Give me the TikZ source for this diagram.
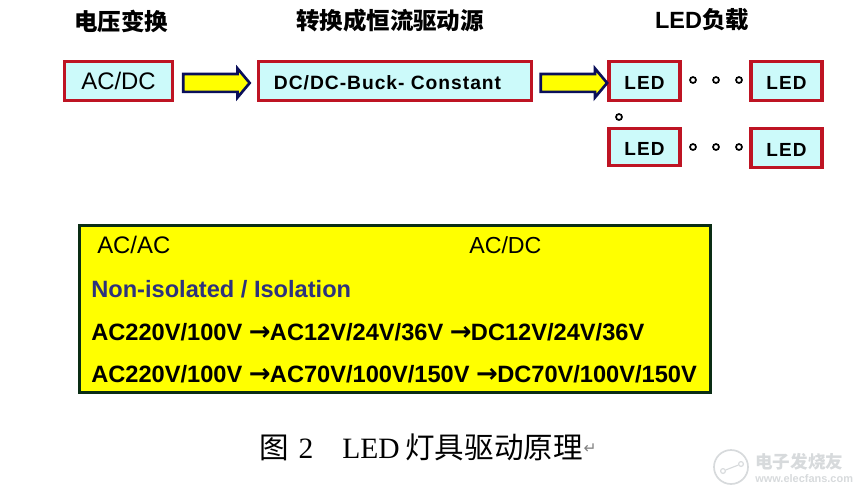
\documentclass[tikz,border=0pt]{standalone}
\usepackage{fontspec}
\setmainfont{Liberation Sans}
\newfontfamily\cjk{Noto Sans CJK SC}
\newfontfamily\capserif{Liberation Serif}
\newfontfamily\symb{DejaVu Sans}
\usetikzlibrary{shapes.arrows}
\definecolor{boxred}{RGB}{190,20,35}
\definecolor{boxcyan}{RGB}{204,250,250}
\definecolor{panelline}{RGB}{10,45,20}
\definecolor{panelyellow}{RGB}{255,255,0}
\definecolor{arrownavy}{RGB}{10,15,90}
\definecolor{isoblue}{RGB}{45,50,125}
\definecolor{markgray}{RGB}{215,218,220}
\newcommand{\txtarrow}{{\symb\fontsize{18.5}{18}\selectfont →}\kern-.5pt}
\tikzset{
    drvbox/.style={draw=boxred, line width=2.4pt, fill=boxcyan, inner sep=0pt, minimum height=.98cm, text height=12.5pt, text depth=0pt, font=\fontsize{13.5}{15}\selectfont\bfseries},
    ledbox/.style={drvbox, minimum width=1.78cm},
    blockarrow/.style={single arrow, draw=arrownavy, line width=1.9pt, fill=panelyellow, inner sep=.19cm, minimum height=1.66cm, minimum width=.72cm, single arrow head extend=.14cm, single arrow tip angle=100},
    headtext/.style={font=\fontsize{16.7}{18}\selectfont\bfseries},
    paneltext/.style={anchor=west, inner sep=0pt, font=\fontsize{16.8}{18}\selectfont\bfseries},
    gapdot/.style={circle, draw=black, line width=1.2pt, fill=white, inner sep=0pt, minimum size=.15cm},
}
\begin{document}
\begin{tikzpicture}[x=.025cm, y=-.025cm]
        \useasboundingbox (0,0) rectangle (860,496);

        \node[headtext] (headvolt) at (121,21) {\cjk 电压变换};
        \node[headtext] (headbuck) at (390,21) {\cjk 转换成恒流驱动源};
        \node[headtext] (headload) at (702,20) {LED\cjk 负载};

        \node[drvbox, minimum width=2.7cm, text height=12.2pt, font=\fontsize{17}{20}\selectfont] (acdc) at (118.5,81) {AC/DC};
        \node[drvbox, minimum width=6.82cm, font=\fontsize{13.7}{15}\selectfont\bfseries] (buck) at (395,81) {\addfontfeatures{LetterSpace=5}DC/DC-Buck- Constant\hspace*{10.6pt}};
        \node[ledbox] (leda) at (644.5,81) {\addfontfeatures{LetterSpace=6}LED};
        \node[ledbox] (ledb) at (786.5,81) {\addfontfeatures{LetterSpace=6}LED};
        \node[ledbox, minimum height=.93cm] (ledc) at (644.5,147) {\addfontfeatures{LetterSpace=6}LED};
        \node[ledbox] (ledd) at (786.5,148) {\addfontfeatures{LetterSpace=6}LED};

        \path (acdc.east) -- (buck.west) node[midway, blockarrow, xshift=-2pt, yshift=-1.4pt] (arrowa) {};
        \path (buck.east) -- (leda.west) node[midway, blockarrow, yshift=-1.4pt] (arrowb) {};

        \node[gapdot] (dota) at (693,80) {};
        \node[gapdot] (dotb) at (716,80) {};
        \node[gapdot] (dotc) at (739,80) {};
        \node[gapdot] (dotd) at (619,117) {};
        \node[gapdot] (dote) at (693,147) {};
        \node[gapdot] (dotf) at (716,147) {};
        \node[gapdot] (dotg) at (739,147) {};

        \node[draw=panelline, line width=2.2pt, fill=panelyellow, minimum width=15.78cm, minimum height=4.18cm, inner sep=0pt] (panel) at (395,309) {};

        \node[paneltext, font=\fontsize{17}{18}\selectfont] (acac) at (97,245) {AC/AC};
        \node[paneltext, font=\fontsize{16.5}{18}\selectfont] (acdctwo) at (469,245) {AC/DC};
        \node[paneltext, text=isoblue] (isolate) at (91,289) {Non-isolated / Isolation};
        \node[paneltext] (linelow) at (91,332) {AC220V/100V \txtarrow AC12V/24V/36V \txtarrow DC12V/24V/36V};
        \node[paneltext] (linehigh) at (91,374) {AC220V/100V \txtarrow AC70V/100V/150V \txtarrow DC70V/100V/150V};

        \node[anchor=west, inner sep=0pt, font=\fontsize{21}{23}\selectfont] (caption) at (259,447) {\cjk 图\hspace{7pt}\capserif 2\hspace{20.6pt}LED\hspace{4pt}\cjk 灯具驱动原理};
        \node[inner sep=0pt, text=gray, font=\fontsize{11}{12}\selectfont] (retmark) at (590,449) {\symb ↵};

        \node[circle, draw=markgray, line width=1.2pt, minimum size=.85cm, inner sep=0pt] (logo) at (731,467) {};
        \node[circle, draw=markgray, line width=.8pt, minimum size=.12cm, inner sep=0pt] (logoa) at (723,471) {};
        \node[circle, draw=markgray, line width=.8pt, minimum size=.12cm, inner sep=0pt] (logob) at (741,464) {};
        \draw[markgray, line width=.8pt] (logoa) -- (logob);
        \node[anchor=west, inner sep=0pt, text=markgray, font=\fontsize{12.5}{14}\selectfont\bfseries] (marktext) at (755,462) {\cjk 电子发烧友};
        \node[anchor=west, inner sep=0pt, text=markgray, font=\fontsize{7.8}{9}\selectfont\bfseries] (markurl) at (755,479) {www.elecfans.com};
    \end{tikzpicture}
\end{document}
